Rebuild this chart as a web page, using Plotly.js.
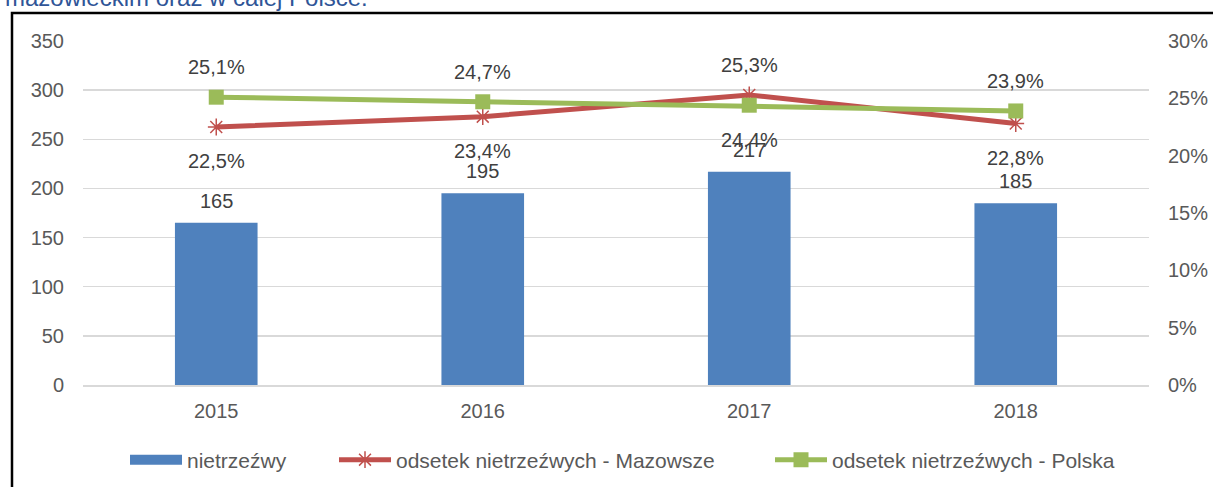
<!DOCTYPE html>
<html>
<head>
<meta charset="utf-8">
<script src="https://cdn.plot.ly/plotly-3.0.1.min.js"></script>
<style>
html,body{margin:0;padding:0;background:#fff;}
#chart{width:1213px;height:487px;}
</style>
</head>
<body>
<div id="chart"></div>
<script>
const years = ['2015', '2016', '2017', '2018'];
const nietrzezwi = [165, 195, 217, 185];
const mazowsze = [22.5, 23.4, 25.3, 22.8];
const polska = [25.1, 24.7, 24.4, 23.9];
const mazowszeLabelPos = ['below', 'below', 'above', 'below'];
const polskaLabelPos = ['above', 'above', 'below', 'above'];
const seriesNames = ['nietrzeźwy', 'odsetek nietrzeźwych - Mazowsze', 'odsetek nietrzeźwych - Polska'];
const headerText = 'mazowieckim oraz w całej Polsce.';

const FONT = 'Liberation Sans, Arial, sans-serif';
const TXT = '#404040';
const FS = 20;

// plot area in pixels
const L = 83, R = 1149, T = 41, B = 385;
const px = x => (x - L) / (R - L);
const py = y => (B - y) / (B - T);

const fmtPct = v => v.toFixed(1).replace('.', ',') + '%';
const idx = years.map((_, i) => i);

const traces = [
  {
    type: 'bar', name: seriesNames[0], x: years, y: nietrzezwi,
    marker: {color: '#4F81BD'}, yaxis: 'y', hoverinfo: 'skip', showlegend: false
  },
  {
    // legend entry for the bars (wide rectangle like the original)
    type: 'scatter', mode: 'lines', name: seriesNames[0], x: [null], y: [null],
    line: {color: '#4F81BD', width: 11}, legend: 'legend', hoverinfo: 'skip'
  },
  {
    type: 'scatter', mode: 'lines+markers', name: seriesNames[1], x: years, y: mazowsze.map(v => v / 100),
    yaxis: 'y2', line: {color: '#C0504D', width: 5}, legend: 'legend2',
    marker: {symbol: 'asterisk-open', size: 14, color: '#C0504D', line: {color: '#C0504D', width: 1.5}},
    hoverinfo: 'skip'
  },
  {
    type: 'scatter', mode: 'lines+markers', name: seriesNames[2], x: years, y: polska.map(v => v / 100),
    yaxis: 'y2', line: {color: '#9BBB59', width: 5}, legend: 'legend3',
    marker: {symbol: 'square', size: 15, color: '#9BBB59'},
    hoverinfo: 'skip'
  }
];

const annotations = [];
idx.forEach(i => {
  annotations.push({x: i, y: nietrzezwi[i], xref: 'x', yref: 'y', text: String(nietrzezwi[i]),
    showarrow: false, yanchor: 'middle', yshift: 22, font: {family: FONT, size: FS, color: TXT}});
  annotations.push({x: i, y: mazowsze[i] / 100, xref: 'x', yref: 'y2', text: fmtPct(mazowsze[i]),
    showarrow: false, yanchor: 'middle', yshift: mazowszeLabelPos[i] === 'above' ? 30 : -34,
    font: {family: FONT, size: FS, color: TXT}});
  annotations.push({x: i, y: polska[i] / 100, xref: 'x', yref: 'y2', text: fmtPct(polska[i]),
    showarrow: false, yanchor: 'middle', yshift: polskaLabelPos[i] === 'above' ? 30 : -35,
    font: {family: FONT, size: FS, color: TXT}});
});
// cut-off header text above the frame
annotations.push({xref: 'paper', yref: 'paper', x: px(3), y: py(13),
  xanchor: 'left', yanchor: 'bottom', text: headerText, showarrow: false,
  font: {family: FONT, size: 24, color: '#2F5597'}});

const legFont = {family: FONT, size: 21, color: '#595959'};
const legBase = {orientation: 'h', xanchor: 'left', yanchor: 'middle', y: py(460),
  font: legFont, bgcolor: 'rgba(0,0,0,0)', itemwidth: 52};

const layout = {
  width: 1213, height: 487,
  margin: {l: L, r: 1213 - R, t: T, b: 487 - B, autoexpand: false},
  paper_bgcolor: '#fff', plot_bgcolor: '#fff',
  font: {family: FONT, size: FS, color: '#595959'},
  showlegend: true,
  bargap: 0.69,
  xaxis: {
    type: 'category', range: [-0.5, 3.5], showgrid: false, showline: true, linecolor: '#D9D9D9', linewidth: 1.5,
    ticks: '', ticklabelstandoff: 7, tickfont: {family: FONT, size: FS, color: '#595959'},
    zeroline: false, fixedrange: true, automargin: false
  },
  yaxis: {
    range: [0, 350], dtick: 50, showgrid: true, gridcolor: '#D9D9D9', gridwidth: 1.5,
    zeroline: false, showline: false, ticks: '', ticklabelstandoff: 18,
    tickfont: {family: FONT, size: FS, color: '#595959'}, fixedrange: true, automargin: false
  },
  yaxis2: {
    overlaying: 'y', side: 'right', range: [0, 0.30], dtick: 0.05, tickformat: '.0%',
    showgrid: false, zeroline: false, showline: false, ticks: '', ticklabelstandoff: 18,
    tickfont: {family: FONT, size: FS, color: '#595959'}, fixedrange: true, automargin: false
  },
  legend: Object.assign({}, legBase, {x: px(125)}),
  legend2: Object.assign({}, legBase, {x: px(334)}),
  legend3: Object.assign({}, legBase, {x: px(770)}),
  annotations: annotations,
  shapes: [{
    type: 'path', xref: 'paper', yref: 'paper', layer: 'above',
    path: 'M ' + px(12) + ' ' + py(520) + ' L ' + px(12) + ' ' + py(13) + ' L ' + px(1260) + ' ' + py(13),
    line: {color: '#000', width: 2.5}
  }]
};

Plotly.newPlot('chart', traces, layout, {staticPlot: true, displayModeBar: false});
</script>
</body>
</html>
